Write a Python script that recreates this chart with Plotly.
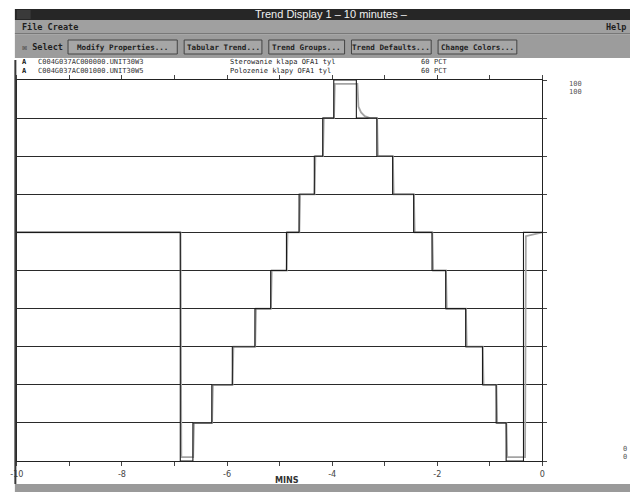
import plotly.graph_objects as go

W, H = 633, 492

# ---- data ----
t_setpoint = [-10, -6.89, -6.65, -6.29, -5.90, -5.47, -5.17, -4.87, -4.63, -4.34, -4.18,
              -3.97, -3.54, -3.15, -2.85, -2.45, -2.10, -1.84, -1.46, -1.14, -0.88, -0.69,
              -0.36, 0]
v_setpoint = [60, 0, 10, 20, 30, 40, 50, 60, 70, 80, 90,
              100, 90, 80, 70, 60, 50, 40, 30, 20, 10, 0,
              60, 60]

t_position = [-10, -6.885, -6.87, -6.645, -6.63, -6.285, -6.27, -5.895, -5.88, -5.465, -5.45,
              -5.165, -5.15, -4.865, -4.85, -4.625, -4.61, -4.335, -4.32, -4.175, -4.16,
              -3.965, -3.95, -3.52, -3.50, -3.45, -3.38, -3.28, -3.145, -3.13, -2.845, -2.83,
              -2.445, -2.43, -2.095, -2.08, -1.835, -1.82, -1.455, -1.44, -1.135, -1.12,
              -0.875, -0.86, -0.685, -0.67, -0.33, -0.315, 0]
v_position = [60, 60, 1, 1, 10, 10, 20, 20, 30, 30, 40,
              40, 50, 50, 60, 60, 70, 70, 80, 80, 90,
              90, 99, 99, 93, 91.5, 90.5, 90, 90, 80, 80, 70,
              70, 60, 60, 50, 50, 40, 40, 30, 30, 20,
              20, 10, 10, 1, 1, 59, 60]

x_tickvals = [-10, -9, -8, -7, -6, -5, -4, -3, -2, -1, 0]
x_ticktext = ["-10", "", "-8", "", "-6", "", "-4", "", "-2", "", "0"]
y_tickvals = [0, 10, 20, 30, 40, 50, 60, 70, 80, 90, 100]

legend_flags = ["A", "A"]
legend_tags = ["C004G037AC000000.UNIT30W3", "C004G037AC001000.UNIT30W5"]
legend_descs = ["Sterowanie klapa OFA1 tyl", "Polozenie klapy OFA1 tyl"]
legend_scales = ["60", "60"]
legend_units = ["PCT", "PCT"]
buttons = ["Modify Properties...", "Tabular Trend...", "Trend Groups...",
           "Trend Defaults...", "Change Colors..."]

# ---- helpers (pixel -> paper) ----
def px(x):
    return x / W

def py(y):
    return 1 - y / H

MONO = "DejaVu Sans Mono"
NARROW = "Liberation Sans Narrow, DejaVu Sans Condensed, sans-serif"

fig = go.Figure()
fig.add_trace(go.Scatter(x=t_position, y=v_position, mode="lines",
                         line=dict(color="#a4a4a4", width=1.8), name="Polozenie",
                         showlegend=False, hoverinfo="skip"))
fig.add_trace(go.Scatter(x=t_setpoint, y=v_setpoint, mode="lines", line_shape="hv",
                         line=dict(color="#1a1a1a", width=1.1), name="Sterowanie",
                         showlegend=False))

shapes = []
annotations = []

def rect(x0, y0, x1, y1, fill, line=None, lw=0):
    shapes.append(dict(type="rect", xref="paper", yref="paper",
                       x0=px(x0), x1=px(x1), y0=py(y1), y1=py(y0),
                       fillcolor=fill, line=dict(color=line or fill, width=lw),
                       layer="below"))

def hline(x0, x1, y, color, w=1):
    shapes.append(dict(type="line", xref="paper", yref="paper",
                       x0=px(x0), x1=px(x1), y0=py(y), y1=py(y),
                       line=dict(color=color, width=w)))

def vline(x, y0, y1, color, w=1):
    shapes.append(dict(type="line", xref="paper", yref="paper",
                       x0=px(x), x1=px(x), y0=py(y0), y1=py(y1),
                       line=dict(color=color, width=w)))

def text(x, y, s, size=8, color="#222", font=MONO, anchor="left", bold=False):
    if bold:
        s = "<b>" + s + "</b>"
    annotations.append(dict(xref="paper", yref="paper", x=px(x), y=py(y), text=s,
                            showarrow=False, xanchor=anchor, yanchor="middle",
                            borderpad=0,
                            font=dict(size=size, color=color, family=font)))

# title bar
rect(8, 9, 633, 20, "#262626")
rect(10, 10, 24, 19, "#3a3a3a")
text(330, 14.5, "Trend Display 1 \u2013 10 minutes \u2013", size=11, color="#f0f0f0",
     font="Liberation Sans Narrow, Liberation Sans, sans-serif", anchor="center")
# menu bar
rect(8, 20, 633, 34, "#a0a0a0")
hline(8, 633, 34, "#505050", 1)
text(14, 27, "File Create", size=8.5, color="#1e1e1e", bold=True)
text(608, 27, "Help", size=8.5, color="#1e1e1e", bold=True)
# toolbar
rect(8, 35, 633, 58, "#9c9c9c")
text(14, 47, "\u2612 Select", size=8.5, color="#1e1e1e", bold=True)
btn_x = [(62, 173), (180, 259), (266, 343), (350, 431), (438, 518)]
for (a, b), label in zip(btn_x, buttons):
    rect(a, 40, b, 54, "#a6a6a6", line="#444444", lw=1)
    text((a + b) / 2, 47, label, size=7.6, color="#1e1e1e", anchor="center", bold=True)
# legend area
rect(8, 58, 633, 79, "#ffffff")
for i in range(len(legend_tags)):
    y = 62 + i * 9
    text(14, y, legend_flags[i], size=7, color="#111", bold=True)
    text(30, y, legend_tags[i], size=7, color="#333")
    text(226, y, legend_descs[i], size=7, color="#222")
    text(420, y, legend_scales[i], size=7, color="#333")
    text(433, y, legend_units[i], size=7, color="#333")
# left dark frame line
vline(8.5, 60, 484, "#3a3a3a", 2)
# bottom gray bar
rect(8, 484, 633, 492, "#9a9a9a")
# right scale labels
text(570, 84, "100", size=7, color="#555", font=MONO)
text(570, 92, "100", size=7, color="#555", font=MONO)
text(625, 449, "0", size=7, color="#555", font=MONO)
text(625, 457, "0", size=7, color="#555", font=MONO)
# axis title
text(285, 480, "<b>MINS</b>", size=9, color="#333", font=NARROW, anchor="center")

fig.update_layout(
    width=W, height=H,
    margin=dict(l=0, r=0, t=0, b=0),
    paper_bgcolor="white", plot_bgcolor="white",
    shapes=shapes, annotations=annotations,
    showlegend=False,
    xaxis=dict(domain=[px(10), px(544)], range=[-10, 0], tickvals=x_tickvals,
               ticktext=x_ticktext, ticks="outside", ticklen=4, tickcolor="#444",
               showline=True, linecolor="#222", linewidth=1, mirror="ticks",
               showgrid=False, zeroline=False,
               tickfont=dict(size=9, color="#444", family=NARROW)),
    yaxis=dict(domain=[1 - 461 / H, 1 - 80 / H], range=[0, 100], tickvals=y_tickvals,
               showticklabels=False, side="right", ticks="outside", ticklen=4,
               tickcolor="#444", showline=True, linecolor="#222", linewidth=1,
               mirror=True, showgrid=True, gridcolor="#2a2a2a", gridwidth=1,
               zeroline=False),
)

fig.write_html("out.html", config={"displayModeBar": False},
               post_script="document.body.style.margin='0';document.body.style.padding='0';"
                           "document.body.style.overflow='hidden';")
